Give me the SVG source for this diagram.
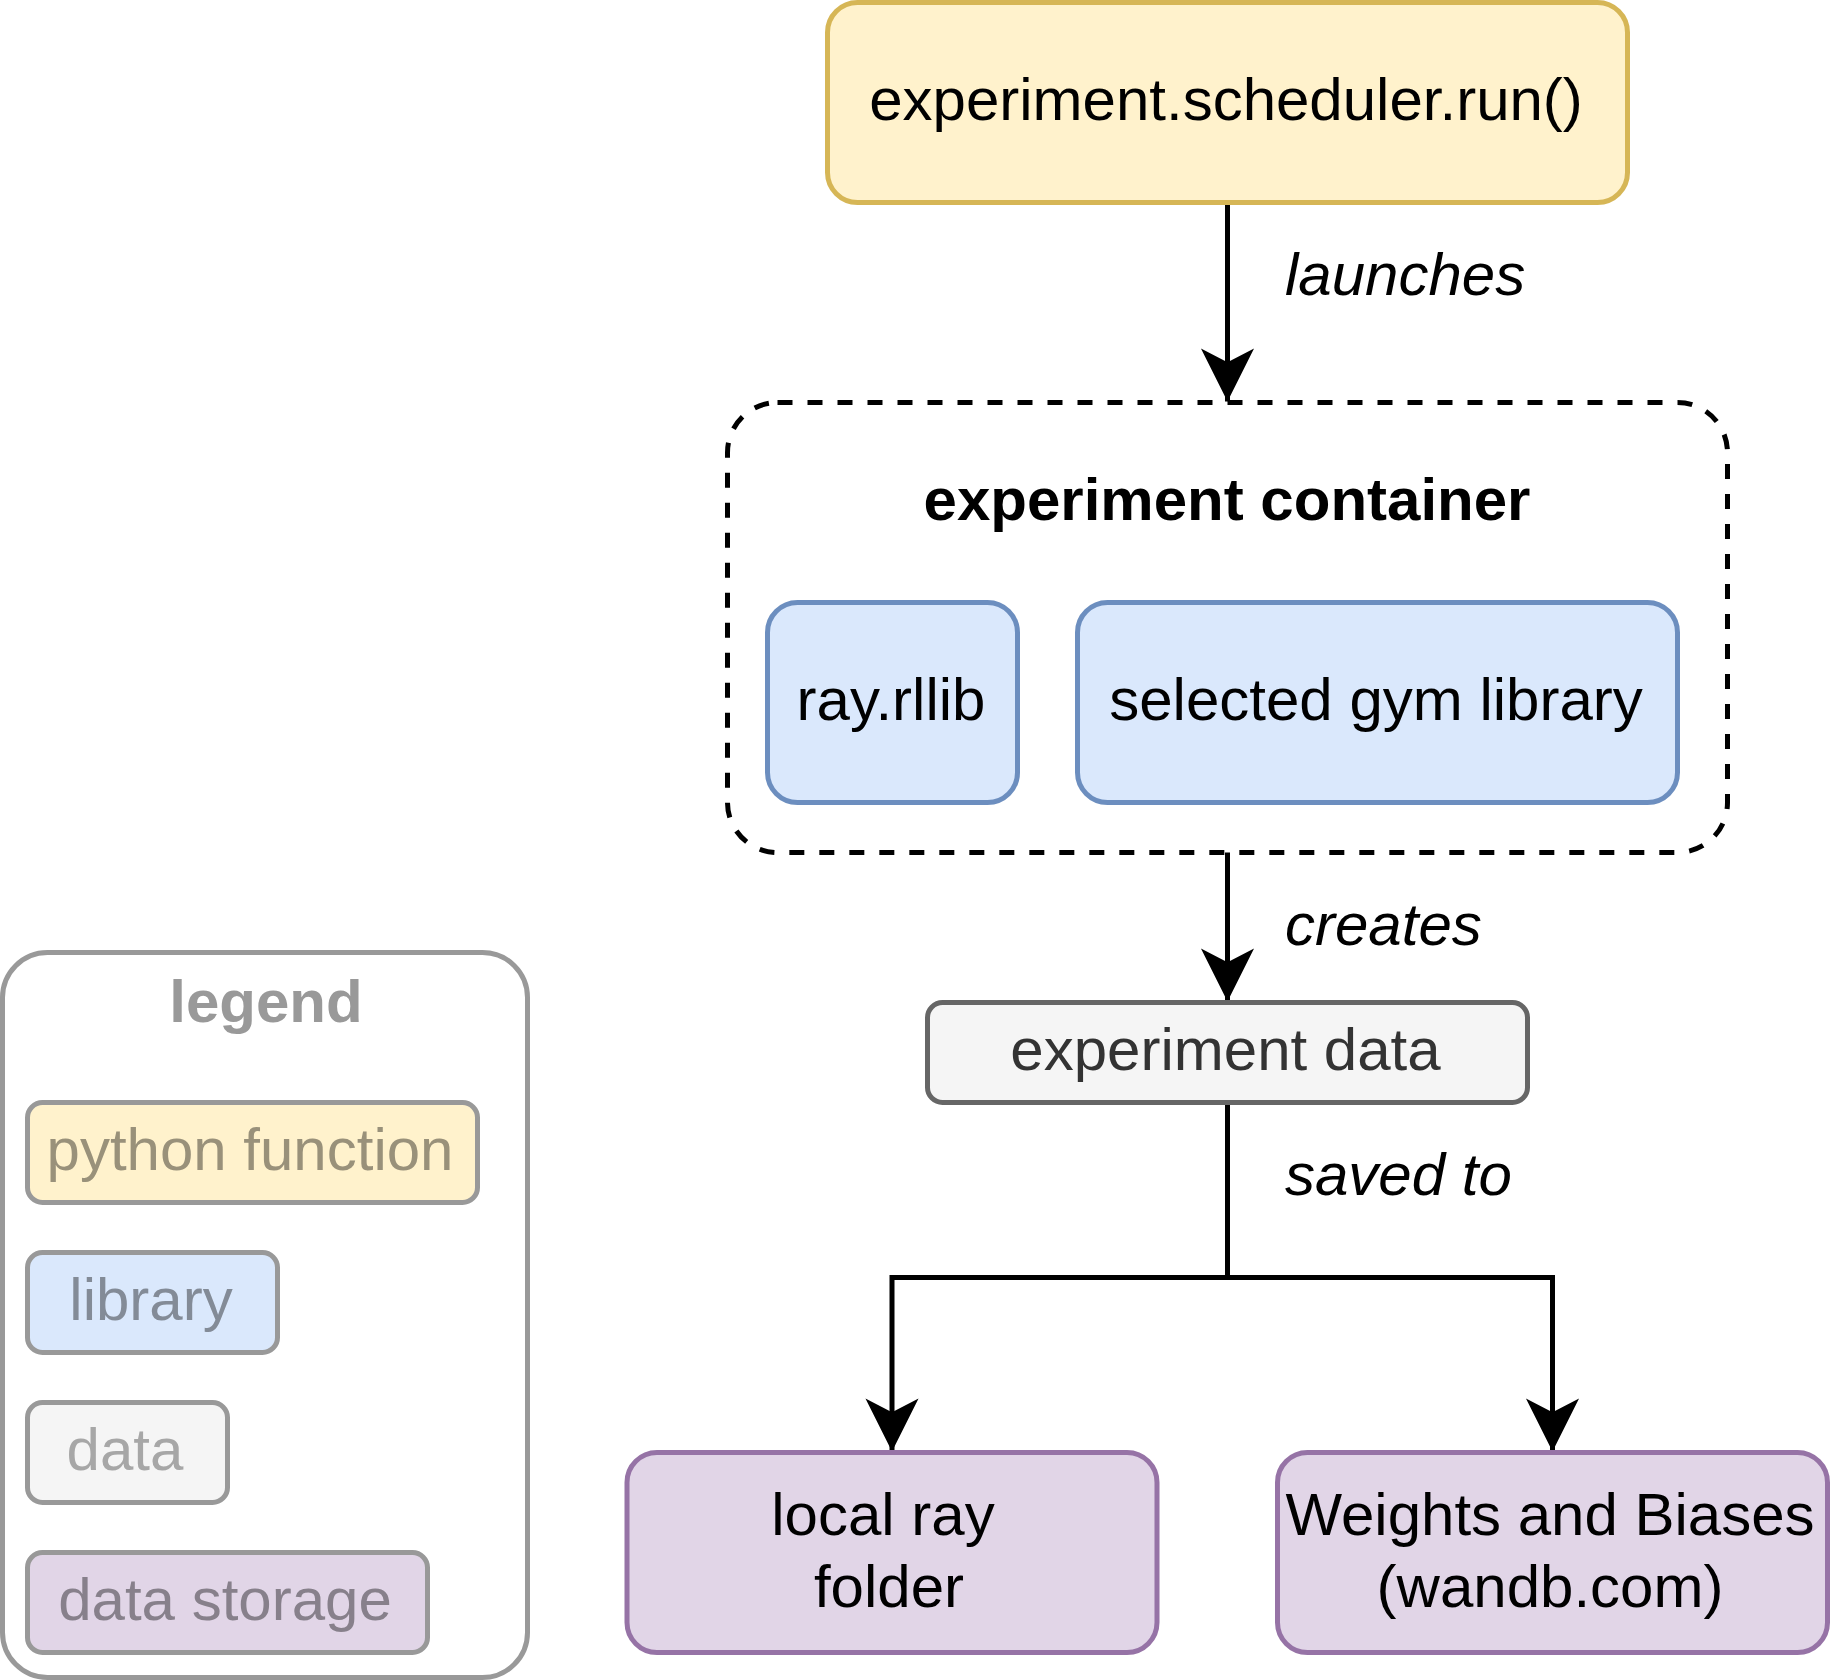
<svg xmlns="http://www.w3.org/2000/svg" width="1830" height="1680" viewBox="0 0 1830 1680">
  <defs>
    <marker id="arrow" markerUnits="userSpaceOnUse" markerWidth="60" markerHeight="60" viewBox="-50 -25 52 50" refX="0" refY="0" orient="auto">
      <path d="M0,0 L-46,-23 L-34,0 L-46,23 Z" fill="#000"/>
    </marker>
    <style>
      text { font-family: "Liberation Sans", Arial, Helvetica, sans-serif; font-size: 60px; }
      .c { text-anchor: middle; }
      .lbl { font-style: italic; fill: #000; }
      .box { stroke-width: 5; }
      .yellow { fill: #fff2cc; stroke: #d6b656; }
      .blue { fill: #dae8fc; stroke: #6c8ebf; }
      .gray { fill: #f5f5f5; stroke: #666666; }
      .purple { fill: #e1d5e7; stroke: #9673a6; }
      .edge { fill: none; stroke: #000; stroke-width: 5; }
      .leg { stroke: #999999; stroke-width: 5; }
    </style>
  </defs>

  <g id="connectors">
    <path class="edge" d="M1227.5,202.5 V401.5" marker-end="url(#arrow)"/>
    <path class="edge" d="M1227.5,852.5 V1001.5" marker-end="url(#arrow)"/>
    <path class="edge" d="M1227.5,1102.5 V1277.5 H892 V1451.5" marker-end="url(#arrow)"/>
    <path class="edge" d="M1227.5,1102.5 V1277.5 H1552.5 V1451.5" marker-end="url(#arrow)"/>
    <text class="lbl" x="1285" y="295">launches</text>
    <text class="lbl" x="1285" y="945">creates</text>
    <text class="lbl" x="1285" y="1195">saved to</text>
  </g>

  <g id="scheduler-run">
    <rect class="box yellow" x="827.5" y="2.5" width="800" height="200" rx="30"/>
    <text class="c" x="1226" y="120">experiment.scheduler.run()</text>
  </g>

  <g id="experiment-container">
    <rect x="727.5" y="402.5" width="1000" height="450" rx="50" fill="none" stroke="#000" stroke-width="5" stroke-dasharray="15 15"/>
    <text class="c" x="1227" y="520" font-weight="bold">experiment container</text>
  </g>

  <g id="ray-rllib">
    <rect class="box blue" x="767.5" y="602.5" width="250" height="200" rx="30"/>
    <text class="c" x="891" y="720">ray.rllib</text>
  </g>

  <g id="gym-library">
    <rect class="box blue" x="1077.5" y="602.5" width="600" height="200" rx="30"/>
    <text class="c" x="1376" y="720">selected gym library</text>
  </g>

  <g id="experiment-data">
    <rect class="box gray" x="927.5" y="1002.5" width="600" height="100" rx="15"/>
    <text class="c" x="1225.5" y="1070" fill="#333333">experiment data</text>
  </g>

  <g id="local-ray-folder">
    <rect class="box purple" x="627" y="1452.5" width="530" height="200" rx="30"/>
    <text class="c" x="883" y="1535">local ray</text>
    <text class="c" x="889" y="1607">folder</text>
  </g>

  <g id="wandb">
    <rect class="box purple" x="1277.5" y="1452.5" width="550" height="200" rx="30"/>
    <text class="c" x="1550" y="1535">Weights and Biases</text>
    <text class="c" x="1550" y="1607">(wandb.com)</text>
  </g>

  <g id="legend">
    <rect x="2.5" y="952.5" width="525" height="725" rx="45" fill="#ffffff" stroke="#999999" stroke-width="5"/>
    <text class="c" x="266" y="1022" font-weight="bold" fill="#999999">legend</text>
  </g>

  <g id="legend-python-function">
    <rect class="leg" fill="#fff2cc" x="27.5" y="1102.5" width="450" height="100" rx="15"/>
    <text class="c" x="250" y="1170" fill="#99917a">python function</text>
  </g>

  <g id="legend-library">
    <rect class="leg" fill="#dae8fc" x="27.5" y="1252.5" width="250" height="100" rx="15"/>
    <text class="c" x="151" y="1320" fill="#838b97">library</text>
  </g>

  <g id="legend-data">
    <rect class="leg" fill="#f5f5f5" x="27.5" y="1402.5" width="200" height="100" rx="15"/>
    <text class="c" x="125" y="1470" fill="#a7a7a7">data</text>
  </g>

  <g id="legend-data-storage">
    <rect class="leg" fill="#e1d5e7" x="27.5" y="1552.5" width="400" height="100" rx="15"/>
    <text class="c" x="225" y="1620" fill="#87808b">data storage</text>
  </g>
</svg>
